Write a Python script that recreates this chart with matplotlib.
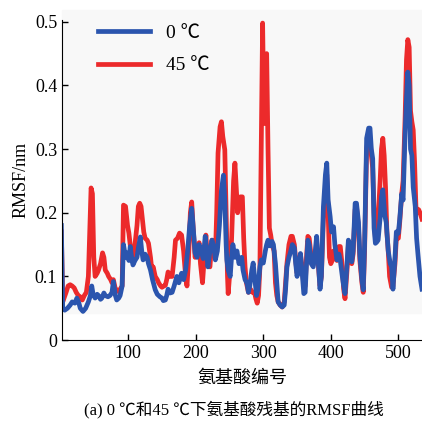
"""RMSF of amino acid residues at 0 and 45 degrees C."""

import matplotlib
matplotlib.use("Agg")
import matplotlib.pyplot as plt
from matplotlib.patches import Rectangle

plt.rcParams['font.family'] = ['Liberation Serif', 'Noto Sans CJK SC', 'DejaVu Sans']

# 0 degC series (residue number, RMSF in nm)
res_0 = [1, 3, 6, 10, 14, 17, 21, 24, 27, 29, 33, 37, 41, 44, 46, 48, 51, 54, 56, 59,
         61, 64, 66, 70, 73, 76, 78, 81, 83, 86, 88, 91, 93, 96, 98, 101, 103, 105, 107, 110,
         113, 115, 118, 120, 122, 125, 128, 130, 133, 136, 140, 143, 147, 150, 152, 155, 157, 159, 162, 165,
         168, 172, 175, 179, 182, 185, 188, 191, 194, 196, 199, 202, 205, 208, 211, 214, 216, 218, 221, 224,
         227, 229, 232, 235, 238, 241, 243, 245, 246, 248, 251, 253, 255, 258, 261, 264, 266, 268, 270, 273,
         276, 278, 280, 283, 285, 287, 290, 292, 295, 297, 300, 303, 305, 307, 310, 313, 315, 318, 320, 322,
         325, 328, 331, 333, 335, 338, 340, 343, 346, 348, 350, 353, 355, 358, 360, 362, 364, 366, 368, 371,
         374, 377, 379, 381, 384, 386, 389, 392, 394, 396, 399, 401, 404, 406, 409, 412, 414, 417, 419, 421,
         424, 426, 428, 431, 433, 436, 438, 441, 443, 446, 448, 450, 453, 456, 458, 460, 462, 464, 466, 468,
         470, 473, 475, 477, 480, 482, 485, 488, 490, 492, 495, 497, 500, 502, 505, 507, 510, 512, 514, 516,
         518, 520, 522, 525, 527, 529, 532, 535]
rmsf_0 = [0.18, 0.05, 0.047, 0.05, 0.055, 0.06, 0.058, 0.066, 0.058, 0.05, 0.045, 0.05, 0.06, 0.07, 0.085, 0.072, 0.066, 0.072, 0.07, 0.064,
          0.066, 0.074, 0.07, 0.068, 0.07, 0.075, 0.092, 0.07, 0.063, 0.066, 0.07, 0.085, 0.15, 0.13, 0.137, 0.125, 0.147, 0.13, 0.118, 0.125,
          0.13, 0.145, 0.162, 0.14, 0.126, 0.135, 0.13, 0.12, 0.11, 0.095, 0.079, 0.072, 0.068, 0.066, 0.062, 0.063, 0.07, 0.08, 0.074, 0.075,
          0.085, 0.1, 0.09, 0.105, 0.095, 0.11, 0.14, 0.18, 0.207, 0.18, 0.137, 0.13, 0.15, 0.14, 0.128, 0.163, 0.14, 0.115, 0.14, 0.157,
          0.145, 0.126, 0.14, 0.18, 0.235, 0.259, 0.22, 0.15, 0.126, 0.11, 0.1, 0.13, 0.15, 0.13, 0.14, 0.12, 0.126, 0.13, 0.11, 0.095,
          0.089, 0.075, 0.085, 0.11, 0.121, 0.1, 0.07, 0.08, 0.115, 0.126, 0.121, 0.14, 0.15, 0.157, 0.148, 0.155, 0.15, 0.12, 0.09, 0.06,
          0.055, 0.052, 0.055, 0.08, 0.115, 0.13, 0.137, 0.15, 0.145, 0.12, 0.1, 0.12, 0.136, 0.1, 0.073, 0.075, 0.12, 0.157, 0.15, 0.12,
          0.115, 0.14, 0.163, 0.13, 0.08, 0.1, 0.209, 0.26, 0.278, 0.22, 0.194, 0.17, 0.178, 0.15, 0.126, 0.135, 0.125, 0.1, 0.085, 0.073,
          0.12, 0.157, 0.15, 0.123, 0.14, 0.215, 0.215, 0.185, 0.133, 0.095, 0.079, 0.15, 0.317, 0.333, 0.333, 0.3, 0.285, 0.176, 0.152, 0.154,
          0.157, 0.192, 0.225, 0.236, 0.195, 0.185, 0.14, 0.12, 0.115, 0.08, 0.13, 0.17, 0.168, 0.19, 0.23, 0.22, 0.325, 0.38, 0.421, 0.4,
          0.3, 0.29, 0.24, 0.21, 0.16, 0.135, 0.1, 0.08]

# 45 degC series
res_45 = [1, 3, 5, 8, 11, 14, 17, 20, 23, 26, 29, 32, 35, 38, 41, 43, 45, 47, 49, 51,
          54, 56, 59, 62, 64, 66, 69, 71, 74, 76, 78, 81, 84, 86, 88, 91, 93, 96, 99, 101,
          104, 106, 108, 111, 113, 115, 117, 119, 121, 123, 125, 128, 130, 133, 135, 137, 140, 143, 145, 148,
          150, 153, 155, 157, 159, 162, 165, 168, 170, 173, 176, 179, 182, 185, 187, 189, 192, 194, 196, 199,
          202, 205, 207, 210, 212, 215, 218, 221, 224, 227, 229, 231, 233, 236, 238, 240, 243, 245, 247, 248,
          250, 253, 256, 258, 260, 262, 264, 266, 269, 271, 273, 275, 278, 281, 284, 287, 289, 291, 293, 295,
          297, 299, 301, 303, 305, 307, 309, 311, 313, 316, 318, 320, 322, 325, 328, 331, 333, 335, 338, 341,
          343, 346, 348, 350, 353, 355, 358, 360, 362, 364, 366, 368, 371, 374, 377, 379, 381, 384, 386, 389,
          392, 394, 396, 398, 400, 402, 404, 406, 409, 412, 414, 417, 419, 421, 424, 426, 428, 431, 433, 436,
          438, 441, 443, 446, 448, 450, 453, 456, 458, 460, 462, 464, 466, 468, 470, 473, 475, 477, 479, 481,
          483, 485, 487, 490, 492, 495, 497, 500, 502, 505, 507, 510, 512, 514, 516, 518, 520, 522, 524, 526,
          528, 530, 532, 535]
rmsf_45 = [0.17, 0.06, 0.066, 0.075, 0.085, 0.087, 0.085, 0.082, 0.075, 0.07, 0.068, 0.063, 0.07, 0.075, 0.1, 0.17, 0.239, 0.23, 0.13, 0.1,
           0.105, 0.11, 0.12, 0.137, 0.13, 0.11, 0.105, 0.1, 0.095, 0.09, 0.095, 0.08, 0.078, 0.076, 0.08, 0.085, 0.212, 0.21, 0.18, 0.168,
           0.14, 0.126, 0.13, 0.16, 0.18, 0.21, 0.215, 0.21, 0.19, 0.17, 0.16, 0.157, 0.152, 0.13, 0.11, 0.115, 0.1, 0.095, 0.09, 0.085,
           0.083, 0.085, 0.086, 0.095, 0.107, 0.1, 0.1, 0.13, 0.157, 0.16, 0.168, 0.165, 0.14, 0.1, 0.085, 0.12, 0.2, 0.217, 0.18, 0.13,
           0.14, 0.153, 0.12, 0.09, 0.12, 0.165, 0.12, 0.115, 0.157, 0.14, 0.13, 0.2, 0.294, 0.335, 0.343, 0.32, 0.299, 0.2, 0.1, 0.073,
           0.1, 0.157, 0.25, 0.278, 0.24, 0.2, 0.215, 0.225, 0.225, 0.16, 0.115, 0.09, 0.075, 0.08, 0.075, 0.075, 0.065, 0.058, 0.07, 0.115,
           0.3, 0.498, 0.34, 0.44, 0.45, 0.3, 0.176, 0.165, 0.15, 0.14, 0.09, 0.07, 0.06, 0.055, 0.052, 0.06, 0.09, 0.12, 0.15, 0.163,
           0.163, 0.15, 0.125, 0.105, 0.12, 0.135, 0.11, 0.085, 0.085, 0.13, 0.163, 0.16, 0.13, 0.12, 0.13, 0.155, 0.125, 0.085, 0.1, 0.19,
           0.24, 0.26, 0.2, 0.13, 0.12, 0.125, 0.14, 0.13, 0.125, 0.147, 0.147, 0.115, 0.08, 0.065, 0.11, 0.15, 0.145, 0.12, 0.135, 0.205,
           0.21, 0.175, 0.125, 0.09, 0.075, 0.14, 0.3, 0.32, 0.315, 0.29, 0.27, 0.2, 0.16, 0.165, 0.19, 0.25, 0.3, 0.317, 0.29, 0.24,
           0.17, 0.14, 0.1, 0.083, 0.085, 0.12, 0.16, 0.16, 0.185, 0.23, 0.25, 0.35, 0.44, 0.472, 0.46, 0.36, 0.343, 0.33, 0.28, 0.21,
           0.2, 0.205, 0.2, 0.19]

y_ticks = [0, 0.1, 0.2, 0.3, 0.4, 0.5]
y_tick_labels = ["0", "0.1", "0.2", "0.3", "0.4", "0.5"]
x_ticks = [100, 200, 300, 400, 500]

fig = plt.figure(figsize=(4.22, 4.23), dpi=100)
ax = fig.add_axes([0.147, 0.196, 0.853, 0.757])
ax.set_facecolor("none")

# light grey panel behind the curves, as in the scanned original
fig.patches.append(Rectangle((62 / 422, 1 - 313 / 423), 360 / 422, 303 / 423,
                             transform=fig.transFigure, color="#f8f8f8", zorder=-1))

ax.plot(res_45, rmsf_45, color="#ec2a2b", lw=3.4, label="45 ℃", solid_joinstyle="round")
ax.plot(res_0, rmsf_0, color="#2b55ae", lw=3.4, label="0 ℃", solid_joinstyle="round")

ax.set_xlim(2, 535)
ax.set_ylim(0, 0.503)
ax.set_xticks(x_ticks)
ax.set_yticks(y_ticks)
ax.set_yticklabels(y_tick_labels)
ax.tick_params(direction="in", labelsize=13, length=4, width=1)
ax.spines["top"].set_visible(False)
ax.spines["right"].set_visible(False)

ax.set_ylabel("RMSF/nm", fontsize=13, labelpad=4)
ax.set_xlabel("氨基酸编号", fontsize=13, labelpad=6)

# legend: blue first, then red
handles, labels = ax.get_legend_handles_labels()
ax.legend(handles[::-1], labels[::-1], loc="upper left", bbox_to_anchor=(0.05, 1.04),
          frameon=False, fontsize=14, handlelength=2.7, handletextpad=0.8, labelspacing=0.75)

fig.text(0.555, 0.01, "(a) 0 ℃和45 ℃下氨基酸残基的RMSF曲线", ha="center", va="bottom", fontsize=12)

fig.savefig("out.png", dpi=100)
